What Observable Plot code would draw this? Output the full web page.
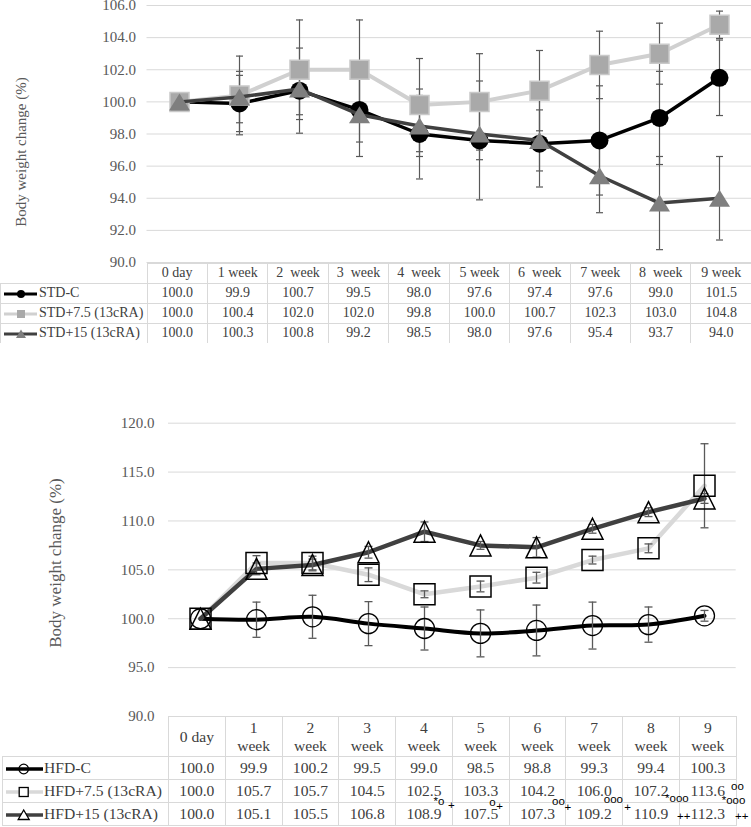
<!DOCTYPE html>
<html><head><meta charset="utf-8">
<script src="https://cdn.jsdelivr.net/npm/d3@7"></script>
<script src="https://cdn.jsdelivr.net/npm/@observablehq/plot@0.6"></script>
<style>
body{margin:0;background:#fff;}
#root{position:relative;width:751px;height:827px;overflow:hidden;background:#fff;font-family:"Liberation Serif","Times New Roman",serif;}
.chart{position:absolute;left:0;}
.ylab{position:absolute;white-space:nowrap;color:#595959;transform:translate(-50%,-50%) rotate(-90deg);line-height:1;}
table{position:absolute;border-collapse:collapse;table-layout:fixed;color:#404040;}
td{border:1px solid #d9d9d9;padding:0;text-align:center;vertical-align:middle;white-space:pre;overflow:visible;line-height:1.15;}
td.blank{border:none;}
td.leg{text-align:left;}
td.leg svg{display:inline-block;vertical-align:middle;}
table.nobottom tr:last-child td{border-bottom:none;}
.ann{position:absolute;font-family:"Liberation Sans",Arial,sans-serif;color:#000;white-space:pre;line-height:1;font-size:11.5px;transform:translate(0,-50%);}
</style></head>
<body>
<div id="root"></div>
<script>
// ---------- data ----------
const days = ["0 day","1 week","2 week","3 week","4 week","5 week","6 week","7 week","8 week","9 week"];
const topHeaders = ["0 day","1 week","2  week","3  week","4  week","5 week","6  week","7 week","8  week","9 week"];
const bottomHeaders = ["0 day","1\nweek","2\nweek","3\nweek","4\nweek","5\nweek","6\nweek","7\nweek","8\nweek","9\nweek"];
const yLabel = "Body weight change (%)";

const topNames = ["STD-C","STD+7.5 (13cRA)","STD+15 (13cRA)"];
const stdC   = [100.0, 99.9, 100.7, 99.5, 98.0, 97.6, 97.4, 97.6, 99.0, 101.5];
const std75  = [100.0, 100.4, 102.0, 102.0, 99.8, 100.0, 100.7, 102.3, 103.0, 104.8];
const std15  = [100.0, 100.3, 100.8, 99.2, 98.5, 98.0, 97.6, 95.4, 93.7, 94.0];
const stdCsd  = [0, 1.75, 2.65, 2.0, 2.8, 3.7, 2.7, 3.4, 2.9, 2.35];
const std75sd = [0, 2.45, 3.1, 3.1, 2.9, 3.0, 2.5, 2.1, 1.9, 0.85];
const std15sd = [0, 1.6, 1.6, 2.6, 1.9, 1.6, 1.9, 2.3, 2.9, 2.6];
const topTicks = [90, 92, 94, 96, 98, 100, 102, 104, 106];

const bottomNames = ["HFD-C","HFD+7.5 (13cRA)","HFD+15 (13cRA)"];
const hfdC   = [100.0, 99.9, 100.2, 99.5, 99.0, 98.5, 98.8, 99.3, 99.4, 100.3];
const hfd75  = [100.0, 105.7, 105.7, 104.5, 102.5, 103.3, 104.2, 106.0, 107.2, 113.6];
const hfd15  = [100.0, 105.1, 105.5, 106.8, 108.9, 107.5, 107.3, 109.2, 110.9, 112.3];
const hfdCsd  = [0, 1.8, 2.2, 2.25, 2.2, 2.4, 2.6, 2.4, 1.8, 0.55];
const hfd75sd = [0, 0.75, 0.7, 0.7, 0.35, 0.55, 0.55, 0.4, 0.45, 4.3];
const hfd15sd = [0, 0.6, 0.6, 0.6, 1.0, 0.4, 1.0, 0.45, 0.45, 0.5];
const bottomTicks = [90, 95, 100, 105, 110, 115, 120];

// significance marks (HFD table)
const hfd75Sig  = ["","","","","","","","","","oo"];
const hfd15Sig  = ["","","","","*o","o","oo","ooo","*ooo","*ooo"];
const hfd15Sig2 = ["","","","","+","+","+","+","++","++"];

// ---------- helpers ----------
const rows = (vals, sds) => days.map((d, i) => ({day: d, v: vals[i], sd: sds[i]}));
const sq = s => ({draw(c){c.rect(-s/2,-s/2,s,s);}});
const tri = (w,h) => ({draw(c){c.moveTo(0,-h/2);c.lineTo(w/2,h/2);c.lineTo(-w/2,h/2);c.closePath();}});
const cap = w => ({draw(c){c.moveTo(-w/2,0);c.lineTo(w/2,0);}});
const fmt = d3.format(".1f");
const root = d3.select("#root");

function errMarks(data, color, sw, cw){
  const d = data.filter(r => r.sd > 0);
  return [
    Plot.ruleX(d, {x:"day", y1: r => r.v - r.sd, y2: r => r.v + r.sd, stroke: color, strokeWidth: sw}),
    Plot.dot(d, {x:"day", y: r => r.v + r.sd, symbol: cap(cw), fill:"none", stroke: color, strokeWidth: sw}),
    Plot.dot(d, {x:"day", y: r => r.v - r.sd, symbol: cap(cw), fill:"none", stroke: color, strokeWidth: sw})
  ];
}

// ---------- TOP CHART ----------
const topData = [rows(stdC, stdCsd), rows(std75, std75sd), rows(std15, std15sd)];
const topSty = [
  {line:"#000000", lw:3.5, sym:"circle", r:9, fill:"#000000", stroke:"none", sw:0},
  {line:"#d0d0d0", lw:4, sym:sq(19), r:9, fill:"#a9a9a9", stroke:"#c9c9c9", sw:1.5},
  {line:"#404040", lw:3.5, sym:tri(21,17), r:9, fill:"#7f7f7f", stroke:"none", sw:0}
];
const topL = {left:146.5, width:751, top:5, y90:262};
const topPlot = Plot.plot({
  width: topL.width, height: topL.y90 + 18,
  marginLeft: topL.left, marginRight: 0, marginTop: topL.top, marginBottom: 18,
  x: {type:"point", domain: days, padding: 0.5, axis: null},
  y: {domain: [90, 106], label: null},
  style: {fontFamily:"'Liberation Serif','Times New Roman',serif", fontSize:"15px", color:"#595959", background:"transparent"},
  marks: [
    Plot.gridY(topTicks, {stroke:"#d9d9d9", strokeOpacity:1, strokeWidth:1}),
    Plot.axisY(topTicks, {tickFormat: fmt, tickSize: 0, tickPadding: 11, label: null}),
    ...topData.flatMap(d => errMarks(d, "#595959", 1.2, 7)),
    ...topData.flatMap((d, k) => [
      Plot.line(d, {x:"day", y:"v", stroke: topSty[k].line, strokeWidth: topSty[k].lw}),
      Plot.dot(d, {x:"day", y:"v", symbol: topSty[k].sym, r: topSty[k].r, fill: topSty[k].fill, stroke: topSty[k].stroke, strokeWidth: topSty[k].sw})
    ])
  ]
});
root.append("div").attr("class","chart").style("top","0px").node().appendChild(topPlot);
root.append("div").attr("class","ylab").style("left","21px").style("top","152px").style("font-size","15px").text(yLabel);

// ---------- BOTTOM CHART ----------
const botData = [rows(hfdC, hfdCsd), rows(hfd75, hfd75sd), rows(hfd15, hfd15sd)];
const botSty = [
  {line:"#000000", lw:4, curve:"catmull-rom", sym:"circle", r:10, sw:1.3},
  {line:"#d9d9d9", lw:4.5, curve:"linear", sym:sq(21), r:10, sw:1.5},
  {line:"#404040", lw:4.5, curve:"linear", sym:tri(21,21), r:10, sw:1.5}
];
const botL = {top:400, left:168, right:735.7, y120:22.7, y90:316};
const botPlot = Plot.plot({
  width: 751, height: botL.y90 + 14,
  marginLeft: botL.left, marginRight: 751 - botL.right, marginTop: botL.y120, marginBottom: 14,
  x: {type:"point", domain: days, padding: 0.5, axis: null},
  y: {domain: [90, 120], label: null},
  style: {fontFamily:"'Liberation Serif','Times New Roman',serif", fontSize:"15px", color:"#595959", background:"transparent"},
  marks: [
    Plot.gridY(bottomTicks, {stroke:"#d9d9d9", strokeOpacity:1, strokeWidth:1}),
    Plot.axisY(bottomTicks, {tickFormat: fmt, tickSize: 0, tickPadding: 14, label: null}),
    ...botData.map((d, k) => Plot.line(d, {x:"day", y:"v", stroke: botSty[k].line, strokeWidth: botSty[k].lw, curve: botSty[k].curve})),
    ...botData.flatMap(d => errMarks(d, "#595959", 1.3, 8)),
    ...botData.map((d, k) => Plot.dot(d, {x:"day", y:"v", symbol: botSty[k].sym, r: botSty[k].r, fill:"none", stroke:"#000", strokeWidth: botSty[k].sw}))
  ]
});
root.append("div").attr("class","chart").style("top", botL.top + "px").node().appendChild(botPlot);
root.append("div").attr("class","ylab").style("left","55px").style("top","563px").style("font-size","17px").text(yLabel);

// ---------- TABLES ----------
function swatch(w, h, x0, x1, mx, color, lw, marker){
  const s = d3.create("svg").attr("width", w).attr("height", h);
  s.append("line").attr("x1", x0).attr("x2", x1).attr("y1", h/2).attr("y2", h/2).attr("stroke", color).attr("stroke-width", lw);
  marker(s.append("g").attr("transform", `translate(${mx},${h/2})`));
  return s.node();
}
function buildTable(o){
  const t = root.append("table").attr("class", o.cls || null)
    .style("left", o.left + "px").style("top", o.top + "px").style("width", o.width + "px").style("font-size", o.fs + "px");
  const cg = t.append("colgroup");
  cg.append("col").style("width", o.legW + "px");
  o.headers.forEach(() => cg.append("col").style("width", o.colW + "px"));
  const hr = t.append("tr").style("height", o.headH + "px");
  hr.append("td").attr("class","blank");
  o.headers.forEach(h => hr.append("td").text(h));
  o.series.forEach((vals, k) => {
    const tr = t.append("tr").style("height", o.rowH + "px");
    const lc = tr.append("td").attr("class","leg");
    lc.node().appendChild(o.swatches[k]);
    lc.append("span").text(o.names[k]);
    vals.forEach(v => tr.append("td").text(fmt(v)));
  });
}

buildTable({
  cls:"nobottom", left:0, top:262.5, width:751, fs:14, legW:146.5, colW:60.45, headH:20, rowH:20,
  headers: topHeaders, names: topNames, series: [stdC, std75, std15],
  swatches: [
    swatch(38, 12, 3, 36, 20, "#000000", 3, g => g.append("circle").attr("r", 4).attr("fill", "#000")),
    swatch(38, 12, 3, 36, 20, "#d0d0d0", 3, g => g.append("rect").attr("x",-4).attr("y",-4).attr("width",8).attr("height",8).attr("fill","#a9a9a9")),
    swatch(38, 12, 3, 36, 20, "#404040", 3, g => g.append("path").attr("d","M0,-4.5L5,4L-5,4Z").attr("fill","#7f7f7f"))
  ]
});

buildTable({
  left:2, top:716, width:733.7, fs:15.6, legW:166, colW:56.77, headH:40, rowH:23,
  headers: bottomHeaders, names: bottomNames, series: [hfdC, hfd75, hfd15],
  swatches: [
    swatch(41, 14, 3, 40, 20.7, "#000000", 3.5, g => g.append("circle").attr("r", 4.8).attr("fill", "none").attr("stroke","#000").attr("stroke-width",1.3)),
    swatch(41, 14, 3, 40, 20.7, "#d9d9d9", 3.5, g => g.append("rect").attr("x",-4.5).attr("y",-4.5).attr("width",9).attr("height",9).attr("fill","#fff").attr("stroke","#000").attr("stroke-width",1.3)),
    swatch(41, 14, 3, 40, 20.7, "#404040", 3.5, g => g.append("path").attr("d","M0,-5L5.5,4.5L-5.5,4.5Z").attr("fill","#fff").attr("stroke","#000").attr("stroke-width",1.3))
  ]
});

// ---------- significance annotations ----------
const colCenter = i => botL.left + (botL.right - botL.left) / 10 * (i + 0.5);
const annLayout15 = {4:{sdx:10, sy:802, pdx:24.5, py:806}, 5:{sdx:9, sy:803, pdx:16, py:807},
  6:{sdx:15, sy:802, pdx:27.5, py:808}, 7:{sdx:10, sy:800, pdx:30.5, py:808},
  8:{sdx:14.5, sy:798.5, pdx:26.5, py:816.7}, 9:{sdx:14.4, sy:801, pdx:27.7, py:816.7}};
const annLayout75 = {9:{sdx:23.7, sy:786.7}};
function ann(txt, x, y){ if (txt) root.append("div").attr("class","ann").style("left", x + "px").style("top", y + "px").text(txt); }
hfd15Sig.forEach((s, i) => { const L = annLayout15[i]; if (L) { ann(s, colCenter(i) + L.sdx, L.sy); ann(hfd15Sig2[i], colCenter(i) + L.pdx, L.py); } });
hfd75Sig.forEach((s, i) => { const L = annLayout75[i]; if (L) ann(s, colCenter(i) + L.sdx, L.sy); });
</script>
</body></html>
